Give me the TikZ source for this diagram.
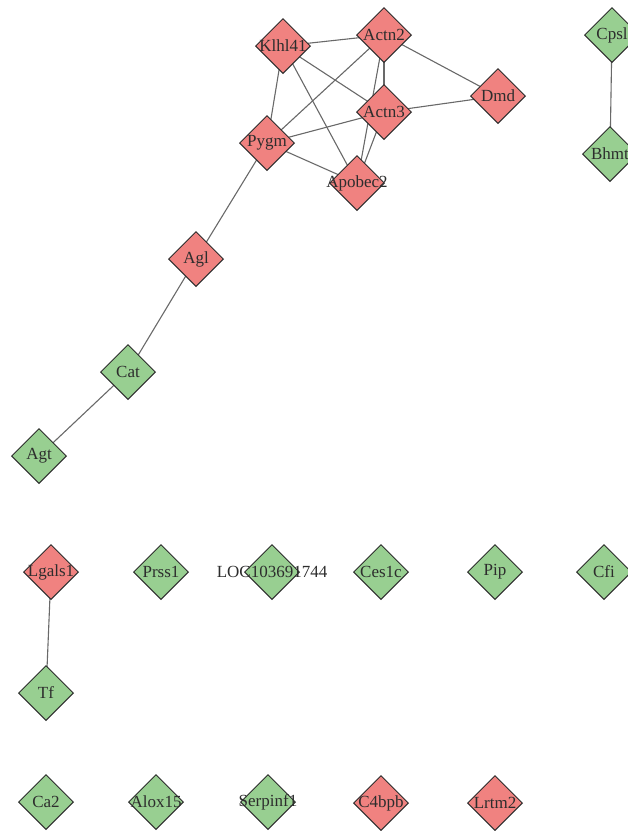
\documentclass[tikz,border=0pt]{standalone}
\usepackage{fontspec}
\setmainfont{Liberation Serif}
\usetikzlibrary{shapes.geometric,backgrounds}
\definecolor{redfill}{RGB}{240,130,128}
\definecolor{greenfill}{RGB}{152,207,145}
\definecolor{edgegray}{RGB}{105,105,105}
\definecolor{bordergray}{RGB}{45,45,45}
\definecolor{textgray}{RGB}{45,45,45}
\newcommand{\lbl}[1]{\makebox[0pt]{\raisebox{-1.5pt}{#1}}}
\tikzset{
  gene/.style={diamond, draw=bordergray, line width=1pt, inner sep=0pt,
    minimum width=55pt, minimum height=55pt, text=textgray,
    font=\fontsize{17}{19}\selectfont},
  up/.style={gene, fill=redfill},
  dn/.style={gene, fill=greenfill},
  link/.style={draw=edgegray, line width=1.1pt}
}
\begin{document}
\begin{tikzpicture}[x=1pt,y=-1pt]
\useasboundingbox (0,0) rectangle (628,831);
% top cluster
\node[up] (klhl) at (283,46) {\lbl{Klhl41}};
\node[up] (actn2) at (384,35) {\lbl{Actn2}};
\node[up] (dmd) at (498,96) {\lbl{Dmd}};
\node[up] (actn3) at (384,112) {\lbl{Actn3}};
\node[up] (pygm) at (267,143) {\lbl{Pygm}};
\node[up] (apob) at (357,183) {\lbl{Apobec2}};
\node[up] (agl) at (196,259) {\lbl{Agl}};
\node[dn] (cat) at (128,372) {\lbl{Cat}};
\node[dn] (agt) at (39,456) {\lbl{Agt}};
% right pair
\node[dn] (cpsl) at (612,35) {\lbl{Cpsl}};
\node[dn] (bhmt) at (610,154) {\lbl{Bhmt}};
% middle row
\node[up] (lgals) at (51,572) {\lbl{Lgals1}};
\node[dn] (prss) at (161,572) {\lbl{Prss1}};
\node[dn] (loc) at (272,572) {\lbl{LOC103691744}};
\node[dn] (ces) at (381,572) {\lbl{Ces1c}};
\node[dn] (pip) at (495,572) {\lbl{Pip}};
\node[dn] (cfi) at (604,572) {\lbl{Cfi}};
\node[dn] (tf) at (46,693) {\lbl{Tf}};
% bottom row
\node[dn] (ca2) at (46,802) {\lbl{Ca2}};
\node[dn] (alox) at (156,802) {\lbl{Alox15}};
\node[dn] (serp) at (268,802) {\lbl{Serpinf1}};
\node[up] (c4b) at (381,803) {\lbl{C4bpb}};
\node[up] (lrtm) at (495,803) {\lbl{Lrtm2}};
% edges
\begin{scope}[on background layer]
\draw[link] (klhl.center) -- (actn2.center);
\draw[link] (klhl.center) -- (actn3.center);
\draw[link] (klhl.center) -- (pygm.center);
\draw[link] (klhl.center) -- (apob.center);
\draw[link] (actn2.center) -- (pygm.center);
\draw[link] (actn2.center) -- (actn3.center);
\draw[link] (actn2.center) -- (apob.center);
\draw[link] (actn2.center) -- (dmd.center);
\draw[link] (actn3.center) -- (dmd.center);
\draw[link] (actn3.center) -- (pygm.center);
\draw[link] (actn3.center) -- (apob.center);
\draw[link] (pygm.center) -- (apob.center);
\draw[link] (pygm.center) -- (agl.center);
\draw[link] (agl.center) -- (cat.center);
\draw[link] (cat.center) -- (agt.center);
\draw[link] (cpsl.center) -- (bhmt.center);
\draw[link] (lgals.center) -- (tf.center);
\end{scope}
\end{tikzpicture}
\end{document}
